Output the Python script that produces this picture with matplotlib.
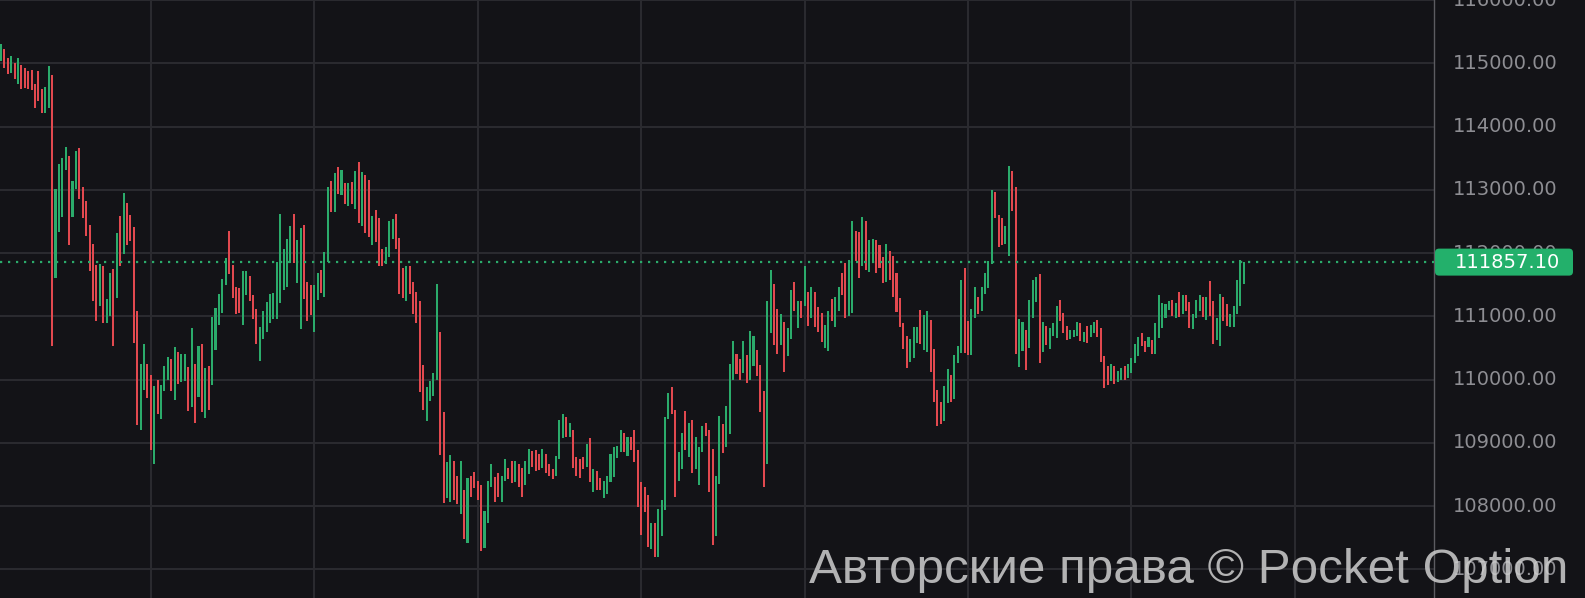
import matplotlib
matplotlib.use("Agg")
import matplotlib.pyplot as plt
import numpy as np
from matplotlib.patches import FancyBboxPatch
from matplotlib.transforms import IdentityTransform, blended_transform_factory

# ---------------- data ----------------
opens = [
    115030, 115230, 115090, 114840, 115000, 114670, 114970, 114920, 114870, 114900,
    114680, 114870, 114590, 114220, 114300, 114820, 111600, 112340, 112570, 113320,
    113530, 112570, 113020, 113660, 113040, 112830, 112440, 112140, 111810, 111170,
    111800, 110890, 111010, 111750, 111290, 112580, 111980, 112790, 112600, 112410,
    111090, 109210, 109830, 110250, 110080, 108660, 110000, 109370, 109820, 110000,
    110330, 109680, 110430,
    109970, 109980, 110200, 109560, 110250, 109730, 110560, 109400, 110210, 109920,
    110460, 110860, 111050, 111490, 112350, 111810, 111460, 111450, 110860, 111340,
    111640, 111340, 111110, 110290, 110640, 110750, 110900, 110950, 110950, 111210,
    111410, 111470, 111850, 112610, 111520, 110800, 112450, 111550, 111500, 110760,
    111260, 111730, 111310, 111860, 113140, 112650, 113360, 112910, 113110, 112750,
    113120, 112700, 113440,
    112430, 113230, 113150, 112120, 112680, 112560, 112070, 111820, 111940, 112220,
    112620, 112240, 111770, 111240, 111800, 111550, 111380, 111250, 110230, 109340,
    109660, 109740, 109990, 110750, 109490, 108130, 108060, 108710, 108470, 107870,
    108250, 107420, 108470, 108540, 108400, 108340, 107340, 107730, 108310, 108460,
    108520, 108060, 108400, 108600, 108710, 108380, 108670, 108600, 108340, 108510,
    108870, 108890, 108830,
    108610, 108820, 108670, 108580, 108480, 108750, 109070, 109410, 109090, 109210,
    108780, 108740, 108780, 108620, 109070, 108220, 108560, 108450, 108130, 108190,
    108380, 108460, 108760, 108850, 109150, 108800, 109090, 109210, 108880, 108380,
    108310, 108170, 107330, 107730, 107190, 107530, 107940, 109370, 109890, 109520,
    108390, 108590, 109500, 108770, 109360, 108580, 108340, 108850, 109320, 109210,
    108900, 107530, 108350,
    109300, 108940, 109140, 109990, 110410, 110320, 110100, 110390, 109990, 110210,
    110470, 110230, 109820, 108660, 110740, 111510, 111120, 110540, 110910, 110370,
    110640, 111550, 110820, 111250, 111170, 111380, 110970, 111390, 111140, 111050,
    110500, 110450, 111270, 110830, 111090, 111690, 111850, 111000, 111060, 112350,
    112340, 111790, 112510, 111700, 111870, 112210, 112130, 111940, 111540, 112030,
    111960, 111690, 111290,
    110900, 110690, 110280, 110340, 110580, 111100, 110460, 110440, 110940, 110490,
    109840, 109650, 109340, 109630, 110080, 109690, 110260, 110420, 111770, 110930,
    110390, 110980, 111310, 111080, 111360, 111450, 111830, 112970, 112600, 112560,
    112140, 111950, 113300, 113050, 110200, 110450, 110780, 110500, 110970, 111230,
    111670, 110440, 110840, 110480, 110690, 110660, 111260, 111060, 110840, 110640,
    110670, 110690,
    110890, 110590, 110840, 110670, 110730, 110940, 110820, 110370, 110220, 109980,
    110220, 109960, 110000, 110210, 110030, 110100, 110270, 110370, 110730, 110610,
    110510, 110630, 110410, 110650, 110820, 110970, 111100, 111260, 110970, 111380,
    111030, 111340, 111220, 110800, 110970, 111080, 111300, 110940, 111560, 111250,
    110620, 110530, 111310, 111190, 110830, 110830, 111040, 111170, 111510,
]
closes = [
    115300, 114920, 114830, 115120, 114750, 115090, 114590, 114610, 114590, 114570,
    114290, 114410, 114220, 114620, 114960, 110530, 113010, 113400, 113500, 113680,
    112120, 113140, 113620, 112850, 112550, 112270, 111710, 111240, 110920, 111830,
    110890, 111280, 111690, 110530, 112320, 111790, 112950, 112120, 112190, 110580,
    109280, 110240, 110570, 109710, 108880, 109900, 109450, 109910, 110220, 110350,
    109820, 110510, 109930,
    110410, 110410, 109500, 110820, 109320, 110530, 109490, 110190, 109520, 110990,
    111130, 111360, 111590, 111920, 111670, 111290, 111040, 111050, 111710, 111710,
    111250, 110960, 110560, 110830, 111090, 111220, 111350, 111370, 111860, 112610,
    112060, 112230, 112430, 111850, 112200, 112400, 111270, 110920, 111020, 111500,
    111680, 111370, 112010, 113040, 112650, 113270, 112940, 113310, 112780, 113100,
    112780, 113300, 112480,
    113280, 112310, 112260, 112590, 112170, 111800, 111790, 112100, 112510, 112540,
    112060, 111350, 111290, 111800, 111350, 111040, 110890, 109810, 109520, 109880,
    109980, 110110, 111510, 108810, 108050, 108690, 108810, 108090, 108030, 108720,
    107480, 108450, 108150, 108280, 108090, 107290, 107930, 108400, 108670, 108070,
    108150, 108480, 108750, 108430, 108360, 108720, 108300, 108150, 108720, 108910,
    108620, 108560, 108570,
    108900, 108530, 108470, 108430, 108800, 109360, 109450, 109100, 109320, 108610,
    108480, 108450, 108580, 108990, 108380, 108590, 108260, 108250, 108400, 108470,
    108830, 108940, 108950, 109210, 108850, 109100, 108880, 108690, 107990, 107550,
    107910, 107350, 107730, 107200, 107960, 108100, 109410, 109790, 109450, 108140,
    108850, 109150, 108880, 109320, 108520, 109090, 108940, 109260, 109110, 108220,
    107390, 108470, 109430,
    108840, 109580, 110240, 110610, 110090, 109990, 110610, 109940, 110770, 110690,
    110060, 109490, 108300, 111250, 111730, 110540, 110410, 111040, 110120, 110820,
    111420, 111080, 111250, 110970, 111790, 110840, 111470, 110830, 110760, 110600,
    110860, 111080, 110920, 111300, 111470, 111330, 110970, 111890, 112510, 111870,
    111610, 112570, 111730, 112210, 112220, 111680, 111760, 111520, 112140, 111580,
    111310, 111070, 110830,
    110490, 110190, 110640, 110830, 110830, 110570, 111020, 111090, 110120, 109640,
    109260, 109300, 109900, 110170, 109650, 110390, 110530, 111570, 110420, 110390,
    111120, 111460, 111040, 111460, 111690, 111880, 113000, 112550, 112090, 112130,
    112420, 113380, 112660, 110410, 110960, 110910, 110150, 111260, 111580, 111620,
    110270, 110910, 110540, 110820, 110900, 111170, 110920, 110730, 110630, 110790,
    110790, 110910,
    110610, 110760, 110580, 110860, 110910, 110680, 110280, 109870, 109910, 110250,
    109930, 110140, 110190, 110000, 110250, 110340, 110560, 110670, 110530, 110440,
    110670, 110410, 110890, 111330, 111210, 111190, 111250, 111000, 111210, 110990,
    111340, 111090, 110820, 111040, 111260, 111340, 110990, 111310, 111000, 110560,
    110970, 111360, 110930, 110840, 111030, 111170, 111570, 111890, 111857.10,
]
last_price = 111857.10
price_levels = [107000, 108000, 109000, 110000, 111000, 112000,
                113000, 114000, 115000, 116000]
watermark = "Авторские права © Pocket Option"

# ---------------- style ----------------
W, H = 1585, 598
BG = "#131317"
GRID = "#2a2a2f"
GREEN = "#2bab6b"
RED = "#e2494f"
TAG = "#23b06b"
LABEL = "#8e8e93"
AXIS_X = 1434  # pixel position of the price-scale border

fig = plt.figure(figsize=(W / 100, H / 100), dpi=100)
fig.patch.set_facecolor(BG)
ax = fig.add_axes([0, 0, AXIS_X / W, 1])
ax.set_facecolor(BG)

o = np.asarray(opens, dtype=float)
c = np.asarray(closes, dtype=float)
idx = np.arange(len(o))
lo = np.minimum(o, c)
hi = np.maximum(o, c)
cols = np.where(c >= o, GREEN, RED)
ax.bar(idx, hi - lo, bottom=lo, width=0.6, color=cols, linewidth=0, zorder=3)

step = 3.405  # pixels per candle
ax.set_xlim(-1 / step, (AXIS_X - 1) / step)
ax.set_ylim(106548, 115955)

ax.set_yticks(price_levels)
ax.set_xticks(np.arange(44, 421, 48))
ax.grid(True, color=GRID, linewidth=1.5, zorder=0)
ax.tick_params(axis="both", length=0, labelbottom=False, labelleft=False,
               labelright=False)
for side in ["top", "bottom", "left"]:
    ax.spines[side].set_visible(False)
ax.spines["right"].set_color("#5c5c61")
ax.spines["right"].set_linewidth(1.0)

# price labels on the right scale
tr = blended_transform_factory(ax.transAxes, ax.transData)
x_lab = 1 + 19 / AXIS_X
for v in price_levels:
    ax.text(x_lab, v, f"{v:.2f}", transform=tr, ha="left", va="center",
            fontsize=14, color=LABEL, family="DejaVu Sans", clip_on=False)

# current price dotted line
ax.axhline(last_price, color=GREEN, linestyle=(0, (1, 2.6)), linewidth=1.6,
           zorder=4)

# price tag
fig.canvas.draw()
yp = ax.transData.transform((0, last_price))[1]
tag = FancyBboxPatch((AXIS_X + 1, yp - 13.5), 1573 - AXIS_X - 1, 27,
                     boxstyle="round,pad=0,rounding_size=4",
                     transform=IdentityTransform(), facecolor=TAG,
                     edgecolor="none", zorder=5)
fig.add_artist(tag)
fig.text(1455, yp, f"{last_price:.2f}", transform=IdentityTransform(),
         ha="left", va="center", fontsize=14, color="white",
         family="DejaVu Sans", zorder=6)

# watermark
wm = fig.text(809, 15, watermark, transform=IdentityTransform(), ha="left",
              va="baseline", fontsize=38, color="#cfcfcf", alpha=0.85,
              family=["Liberation Sans", "DejaVu Sans"], zorder=10)
fig.canvas.draw()
bb = wm.get_window_extent()
wm.set_fontsize(38 * 758 / bb.width)

fig.savefig("out.png", dpi=100, facecolor=BG)
